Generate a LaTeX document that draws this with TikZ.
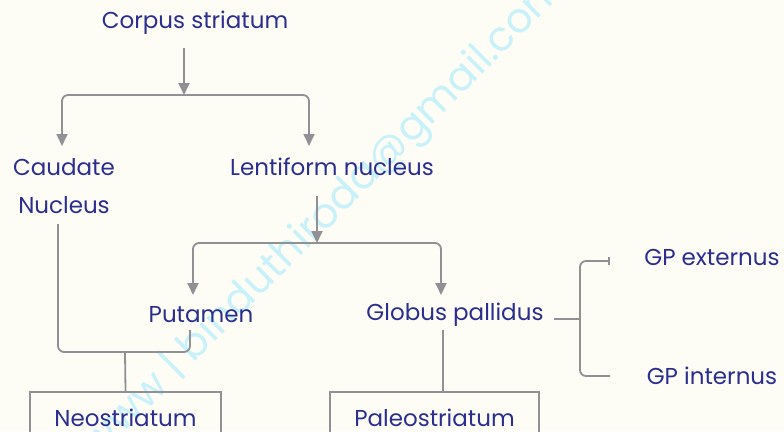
\documentclass[tikz,border=0pt]{standalone}
\usepackage{fontspec}
\setmainfont{Poppins}
\usetikzlibrary{arrows.meta}
\definecolor{bg}{HTML}{FDFDF5}
\definecolor{txt}{HTML}{2B2E8F}
\definecolor{ln}{HTML}{909095}
\definecolor{wm}{HTML}{C8F1F9}
\begin{document}
\begin{tikzpicture}[x=1pt,y=-1pt,
  lbl/.style={font=\fontsize{23}{38}\selectfont, text=txt, inner sep=0pt},
  conn/.style={draw=ln, line width=1.8pt, rounded corners=6pt},
  arr/.style={conn, -{Triangle[width=11pt,length=12pt]}},
  boxn/.style={draw=ln, line width=1.8pt, inner sep=0pt, font=\fontsize{23}{26}\selectfont, text=txt}]
\fill[bg] (0,0) rectangle (784,431);
\useasboundingbox (0,0) rectangle (784,431);
% watermark
\node[rotate=45, text=wm, font=\fontsize{41}{41}\selectfont, inner sep=0pt] (wmk) at (325,217) {www | binduthiroda@gmail.com};
% labels
\node[lbl] (cs) at (195,23) {Corpus striatum};
\node[lbl, align=center] (cau) at (64,186) {Caudate\\Nucleus};
\node[lbl] (len) at (332,167) {Lentiform nucleus};
\node[lbl] (put) at (201,315) {Putamen};
\node[lbl] (glob) at (455,315) {Globus pallidus};
\node[lbl] (gpe) at (712,257) {GP externus};
\node[lbl] (gpi) at (712,376) {GP internus};
\node[boxn, minimum width=191pt, minimum height=52pt] (neo) at (125.5,418) {Neostriatum};
\node[boxn, minimum width=209pt, minimum height=52pt] (pal) at (434.5,418) {Paleostriatum};
% coordinates
\coordinate (a1) at (184,48);
\coordinate (j1) at (184,95);
\coordinate (c1) at (62,146);
\coordinate (l1) at (309,146);
\coordinate (a2) at (317,196);
\coordinate (j2) at (317,243);
\coordinate (p1) at (193,295);
\coordinate (g1) at (441,295);
\coordinate (cn1) at (58,224);
\coordinate (pm1) at (190,330);
\coordinate (jn) at (125,352);
\coordinate (gb1) at (443,330);
\coordinate (gp1) at (554,319);
\coordinate (gpj) at (580,319);
\coordinate (gpet) at (610,261);
\coordinate (gpit) at (610,376);
% connectors
\draw[arr] (a1) -- (j1);
\draw[arr] (j1) -| (c1);
\draw[arr] (j1) -| (l1);
\draw[arr] (a2) -- (j2);
\draw[arr] (j2) -| (p1);
\draw[arr] (j2) -| (g1);
\draw[conn] (cn1) -- (cn1 |- jn) -- (pm1 |- jn) -- (pm1);
\draw[conn] (jn) -- (neo.north);
\draw[conn] (gb1) -- (gb1 |- pal.north);
\draw[conn] (gp1) -- (gpj);
\draw[conn, -{Bar[width=8pt]}] (gpj) |- (gpet);
\draw[conn] (gpj) |- (gpit);
\end{tikzpicture}
\end{document}
